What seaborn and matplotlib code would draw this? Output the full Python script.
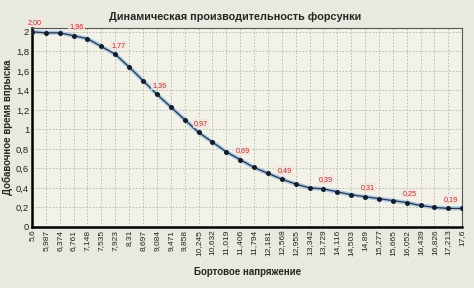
import numpy as np
import pandas as pd
import matplotlib
matplotlib.use("Agg")
import matplotlib.pyplot as plt
import seaborn as sns

voltage_labels = ["5,6", "5,987", "6,374", "6,761", "7,148", "7,535", "7,923", "8,31",
                  "8,697", "9,084", "9,471", "9,858", "10,245", "10,632", "11,019", "11,406",
                  "11,794", "12,181", "12,568", "12,955", "13,342", "13,729", "14,116", "14,503",
                  "14,89", "15,277", "15,665", "16,052", "16,439", "16,826", "17,213", "17,6"]
injection_time = [2.00, 1.99, 1.99, 1.96, 1.93, 1.85, 1.77, 1.64,
                  1.50, 1.36, 1.23, 1.10, 0.97, 0.87, 0.77, 0.69,
                  0.61, 0.55, 0.49, 0.44, 0.40, 0.39, 0.36, 0.33,
                  0.31, 0.29, 0.27, 0.25, 0.22, 0.20, 0.19, 0.19]
labeled_idx = [0, 3, 6, 9, 12, 15, 18, 21, 24, 27, 30]
y_ticks = [0, 0.2, 0.4, 0.6, 0.8, 1.0, 1.2, 1.4, 1.6, 1.8, 2.0]
y_tick_labels = ["0", "0,2", "0,4", "0,6", "0,8", "1", "1,2", "1,4", "1,6", "1,8", "2"]

title = "Динамическая производительность форсунки"
xlabel = "Бортовое напряжение"
ylabel = "Добавочное время впрыска"

sns.set_theme(style="white")
plt.rcParams['font.family'] = ['Liberation Sans', 'DejaVu Sans']

df = pd.DataFrame({"pos": np.arange(len(voltage_labels)), "val": injection_time})

fig = plt.figure(figsize=(4.74, 2.88), dpi=100, facecolor="#e9eadf")
ax = fig.add_axes([0.0675, 0.212, 0.9075, 0.691])
ax.set_facecolor("#f2f2e9")

# light blue glow under the line
sns.lineplot(data=df, x="pos", y="val", ax=ax, color="#a9c9e6", linewidth=3.0, zorder=2)
sns.lineplot(data=df, x="pos", y="val", ax=ax, color="#2a3440", linewidth=0.9,
             marker="o", markersize=3.6, markeredgewidth=0, markerfacecolor="#141c2a", zorder=3)

for i in labeled_idx:
    v = injection_time[i]
    ax.annotate(f"{v:.2f}".replace(".", ","), (df.pos[i], v), xytext=(2, 6.5),
                textcoords="offset points", ha="center", va="center",
                fontsize=5.2, color="#b8302a", zorder=5, annotation_clip=False,
                bbox=dict(boxstyle="square,pad=0.15", facecolor="#f5e4de", edgecolor="none", alpha=0.8))

ax.set_xlim(0, len(voltage_labels) - 1)
ax.set_ylim(0, 2.04)
ax.set_xticks(df.pos)
ax.set_xticklabels(voltage_labels, rotation=90, fontsize=6, color="#222222")
ax.set_yticks(y_ticks)
ax.set_yticklabels(y_tick_labels, fontsize=6.8, color="#222222")
ax.tick_params(axis="both", length=0, pad=2)

ax.grid(True, linestyle=(0, (2, 2)), color="#b4b4ac", linewidth=0.6)
ax.set_axisbelow(True)

for side in ["left", "bottom"]:
    ax.spines[side].set_color("#000000")
    ax.spines[side].set_linewidth(1.8)
for side in ["top", "right"]:
    ax.spines[side].set_color("#555555")
    ax.spines[side].set_linewidth(0.8)

ax.set_xlabel(xlabel, fontsize=7, fontweight="bold", labelpad=8)
ax.set_ylabel(ylabel, fontsize=7, fontweight="bold", labelpad=2)
fig.text(0.495, 0.94, title, ha="center", va="center", fontsize=7.8, fontweight="bold")

fig.savefig("out.png", dpi=100, facecolor=fig.get_facecolor())
